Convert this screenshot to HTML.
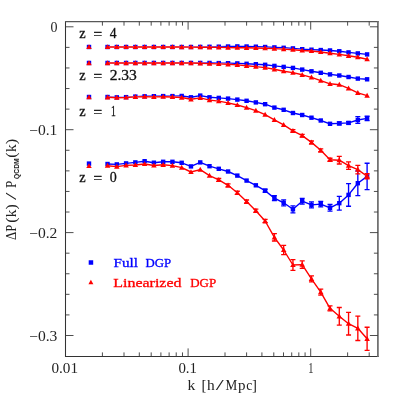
<!DOCTYPE html>
<html><head><meta charset="utf-8"><title>DGP power spectrum</title>
<style>
html,body{margin:0;padding:0;background:#fff;}
svg{display:block;}
text{font-family:"Liberation Serif",serif;}
</style></head>
<body>
<svg width="399" height="399" viewBox="0 0 399 399">
<defs><filter id="idf" x="0" y="0" width="399" height="399" filterUnits="userSpaceOnUse" color-interpolation-filters="sRGB"><feOffset dx="0" dy="0"/></filter></defs>
<rect width="399" height="399" fill="#fff"/>
<path d="M65.5 21.049999999999997V356.9" stroke="#333" stroke-width="1.05" fill="none"/>
<path d="M65.0 356.4H378.59999999999997" stroke="#333" stroke-width="1.05" fill="none"/>
<path d="M65.0 21.65H378.59999999999997" stroke="#585858" stroke-width="1.35" fill="none"/>
<path d="M377.9 21.049999999999997V356.9" stroke="#6a6a6a" stroke-width="1.7" fill="none"/>
<path d="M102.41 356.4v-4M102.41 21.65v4M124.00 356.4v-4M124.00 21.65v4M139.31 356.4v-4M139.31 21.65v4M151.19 356.4v-4M151.19 21.65v4M160.90 356.4v-4M160.90 21.65v4M169.11 356.4v-4M169.11 21.65v4M176.22 356.4v-4M176.22 21.65v4M182.49 356.4v-4M182.49 21.65v4M188.10 356.4v-8M188.10 21.65v8M225.01 356.4v-4M225.01 21.65v4M246.60 356.4v-4M246.60 21.65v4M261.91 356.4v-4M261.91 21.65v4M273.79 356.4v-4M273.79 21.65v4M283.50 356.4v-4M283.50 21.65v4M291.71 356.4v-4M291.71 21.65v4M298.82 356.4v-4M298.82 21.65v4M305.09 356.4v-4M305.09 21.65v4M310.70 356.4v-8M310.70 21.65v8M347.61 356.4v-4M347.61 21.65v4M369.20 356.4v-4M369.20 21.65v4M65.5 26.80h8M377.9 26.80h-8M65.5 47.38h4M377.9 47.38h-4M65.5 67.96h4M377.9 67.96h-4M65.5 88.54h4M377.9 88.54h-4M65.5 109.12h4M377.9 109.12h-4M65.5 129.70h8M377.9 129.70h-8M65.5 150.28h4M377.9 150.28h-4M65.5 170.86h4M377.9 170.86h-4M65.5 191.44h4M377.9 191.44h-4M65.5 212.02h4M377.9 212.02h-4M65.5 232.60h8M377.9 232.60h-8M65.5 253.18h4M377.9 253.18h-4M65.5 273.76h4M377.9 273.76h-4M65.5 294.34h4M377.9 294.34h-4M65.5 314.92h4M377.9 314.92h-4M65.5 335.50h8M377.9 335.50h-8" stroke="#3a3a3a" stroke-width="0.9" fill="none"/>
<polyline points="107.54,47.00 116.81,47.00 126.08,47.00 135.35,47.00 144.62,47.00 153.89,47.00 163.16,47.00 172.43,47.00 181.70,47.00 190.97,47.00 200.24,46.90 209.51,46.80 218.78,46.70 228.05,46.50 237.32,46.40 246.59,46.50 255.86,46.70 265.13,47.00 274.40,47.40 283.67,47.80 292.94,48.40 302.21,49.20 311.48,49.70 320.75,50.05 330.02,50.45 339.29,51.25 348.56,52.40 357.83,53.40 367.10,54.40" fill="none" stroke="#fff" stroke-width="1.4" stroke-linejoin="round"/>
<polyline points="107.54,47.00 116.81,47.00 126.08,47.00 135.35,47.00 144.62,47.00 153.89,47.00 163.16,47.00 172.43,47.00 181.70,47.00 190.97,47.00 200.24,46.90 209.51,46.80 218.78,46.70 228.05,46.50 237.32,46.40 246.59,46.50 255.86,46.70 265.13,47.00 274.40,47.40 283.67,47.80 292.94,48.40 302.21,49.20 311.48,49.70 320.75,50.05 330.02,50.45 339.29,51.25 348.56,52.40 357.83,53.40 367.10,54.40" fill="none" stroke="#0000ff" stroke-width="1.4" stroke-linejoin="round"/>
<rect x="86.80" y="44.80" width="4.4" height="4.4" fill="#0000ff"/>
<rect x="105.34" y="44.80" width="4.4" height="4.4" fill="#0000ff"/>
<rect x="114.61" y="44.80" width="4.4" height="4.4" fill="#0000ff"/>
<rect x="123.88" y="44.80" width="4.4" height="4.4" fill="#0000ff"/>
<rect x="133.15" y="44.80" width="4.4" height="4.4" fill="#0000ff"/>
<rect x="142.42" y="44.80" width="4.4" height="4.4" fill="#0000ff"/>
<rect x="151.69" y="44.80" width="4.4" height="4.4" fill="#0000ff"/>
<rect x="160.96" y="44.80" width="4.4" height="4.4" fill="#0000ff"/>
<rect x="170.23" y="44.80" width="4.4" height="4.4" fill="#0000ff"/>
<rect x="179.50" y="44.80" width="4.4" height="4.4" fill="#0000ff"/>
<rect x="188.77" y="44.80" width="4.4" height="4.4" fill="#0000ff"/>
<rect x="198.04" y="44.70" width="4.4" height="4.4" fill="#0000ff"/>
<rect x="207.31" y="44.60" width="4.4" height="4.4" fill="#0000ff"/>
<rect x="216.58" y="44.50" width="4.4" height="4.4" fill="#0000ff"/>
<rect x="225.85" y="44.30" width="4.4" height="4.4" fill="#0000ff"/>
<rect x="235.12" y="44.20" width="4.4" height="4.4" fill="#0000ff"/>
<rect x="244.39" y="44.30" width="4.4" height="4.4" fill="#0000ff"/>
<rect x="253.66" y="44.50" width="4.4" height="4.4" fill="#0000ff"/>
<rect x="262.93" y="44.80" width="4.4" height="4.4" fill="#0000ff"/>
<rect x="272.20" y="45.20" width="4.4" height="4.4" fill="#0000ff"/>
<rect x="281.47" y="45.60" width="4.4" height="4.4" fill="#0000ff"/>
<rect x="290.74" y="46.20" width="4.4" height="4.4" fill="#0000ff"/>
<rect x="300.01" y="47.00" width="4.4" height="4.4" fill="#0000ff"/>
<rect x="309.28" y="47.50" width="4.4" height="4.4" fill="#0000ff"/>
<rect x="318.55" y="47.85" width="4.4" height="4.4" fill="#0000ff"/>
<rect x="327.82" y="48.25" width="4.4" height="4.4" fill="#0000ff"/>
<rect x="337.09" y="49.05" width="4.4" height="4.4" fill="#0000ff"/>
<rect x="346.36" y="50.20" width="4.4" height="4.4" fill="#0000ff"/>
<rect x="355.63" y="51.20" width="4.4" height="4.4" fill="#0000ff"/>
<rect x="364.90" y="52.20" width="4.4" height="4.4" fill="#0000ff"/>
<polyline points="107.54,62.95 116.81,62.95 126.08,62.95 135.35,62.95 144.62,62.95 153.89,62.95 163.16,62.95 172.43,62.95 181.70,62.95 190.97,62.95 200.24,62.95 209.51,62.95 218.78,63.10 228.05,63.20 237.32,63.40 246.59,63.80 255.86,64.20 265.13,64.80 274.40,65.90 283.67,66.90 292.94,67.90 302.21,69.60 311.48,71.30 320.75,72.80 330.02,74.40 339.29,75.50 348.56,77.00 357.83,78.60 367.10,79.30" fill="none" stroke="#fff" stroke-width="1.4" stroke-linejoin="round"/>
<polyline points="107.54,62.95 116.81,62.95 126.08,62.95 135.35,62.95 144.62,62.95 153.89,62.95 163.16,62.95 172.43,62.95 181.70,62.95 190.97,62.95 200.24,62.95 209.51,62.95 218.78,63.10 228.05,63.20 237.32,63.40 246.59,63.80 255.86,64.20 265.13,64.80 274.40,65.90 283.67,66.90 292.94,67.90 302.21,69.60 311.48,71.30 320.75,72.80 330.02,74.40 339.29,75.50 348.56,77.00 357.83,78.60 367.10,79.30" fill="none" stroke="#0000ff" stroke-width="1.4" stroke-linejoin="round"/>
<rect x="86.80" y="60.75" width="4.4" height="4.4" fill="#0000ff"/>
<rect x="105.34" y="60.75" width="4.4" height="4.4" fill="#0000ff"/>
<rect x="114.61" y="60.75" width="4.4" height="4.4" fill="#0000ff"/>
<rect x="123.88" y="60.75" width="4.4" height="4.4" fill="#0000ff"/>
<rect x="133.15" y="60.75" width="4.4" height="4.4" fill="#0000ff"/>
<rect x="142.42" y="60.75" width="4.4" height="4.4" fill="#0000ff"/>
<rect x="151.69" y="60.75" width="4.4" height="4.4" fill="#0000ff"/>
<rect x="160.96" y="60.75" width="4.4" height="4.4" fill="#0000ff"/>
<rect x="170.23" y="60.75" width="4.4" height="4.4" fill="#0000ff"/>
<rect x="179.50" y="60.75" width="4.4" height="4.4" fill="#0000ff"/>
<rect x="188.77" y="60.75" width="4.4" height="4.4" fill="#0000ff"/>
<rect x="198.04" y="60.75" width="4.4" height="4.4" fill="#0000ff"/>
<rect x="207.31" y="60.75" width="4.4" height="4.4" fill="#0000ff"/>
<rect x="216.58" y="60.90" width="4.4" height="4.4" fill="#0000ff"/>
<rect x="225.85" y="61.00" width="4.4" height="4.4" fill="#0000ff"/>
<rect x="235.12" y="61.20" width="4.4" height="4.4" fill="#0000ff"/>
<rect x="244.39" y="61.60" width="4.4" height="4.4" fill="#0000ff"/>
<rect x="253.66" y="62.00" width="4.4" height="4.4" fill="#0000ff"/>
<rect x="262.93" y="62.60" width="4.4" height="4.4" fill="#0000ff"/>
<rect x="272.20" y="63.70" width="4.4" height="4.4" fill="#0000ff"/>
<rect x="281.47" y="64.70" width="4.4" height="4.4" fill="#0000ff"/>
<rect x="290.74" y="65.70" width="4.4" height="4.4" fill="#0000ff"/>
<rect x="300.01" y="67.40" width="4.4" height="4.4" fill="#0000ff"/>
<rect x="309.28" y="69.10" width="4.4" height="4.4" fill="#0000ff"/>
<rect x="318.55" y="70.60" width="4.4" height="4.4" fill="#0000ff"/>
<rect x="327.82" y="72.20" width="4.4" height="4.4" fill="#0000ff"/>
<rect x="337.09" y="73.30" width="4.4" height="4.4" fill="#0000ff"/>
<rect x="346.36" y="74.80" width="4.4" height="4.4" fill="#0000ff"/>
<rect x="355.63" y="76.40" width="4.4" height="4.4" fill="#0000ff"/>
<rect x="364.90" y="77.10" width="4.4" height="4.4" fill="#0000ff"/>
<polyline points="107.54,97.00 116.81,97.35 126.08,97.15 135.35,96.60 144.62,96.30 153.89,96.20 163.16,96.10 172.43,96.10 181.70,95.95 190.97,97.30 200.24,95.60 209.51,97.30 218.78,97.90 228.05,98.60 237.32,99.60 246.59,100.80 255.86,102.40 265.13,104.20 274.40,107.60 283.67,109.80 292.94,113.00 302.21,115.00 311.48,117.70 320.75,120.50 330.02,123.80 339.29,123.40 348.56,122.90 357.83,120.00 367.10,118.40" fill="none" stroke="#fff" stroke-width="1.4" stroke-linejoin="round"/>
<polyline points="107.54,97.00 116.81,97.35 126.08,97.15 135.35,96.60 144.62,96.30 153.89,96.20 163.16,96.10 172.43,96.10 181.70,95.95 190.97,97.30 200.24,95.60 209.51,97.30 218.78,97.90 228.05,98.60 237.32,99.60 246.59,100.80 255.86,102.40 265.13,104.20 274.40,107.60 283.67,109.80 292.94,113.00 302.21,115.00 311.48,117.70 320.75,120.50 330.02,123.80 339.29,123.40 348.56,122.90 357.83,120.00 367.10,118.40" fill="none" stroke="#0000ff" stroke-width="1.4" stroke-linejoin="round"/>
<path d="M339.29 121.90V124.90M336.79 121.90h5M336.79 124.90h5" stroke="#0000ff" stroke-width="1.35" fill="none"/>
<path d="M348.56 121.70V124.10M346.06 121.70h5M346.06 124.10h5" stroke="#0000ff" stroke-width="1.35" fill="none"/>
<path d="M357.83 116.60V123.40M355.33 116.60h5M355.33 123.40h5" stroke="#0000ff" stroke-width="1.35" fill="none"/>
<path d="M367.10 116.20V120.60M364.60 116.20h5M364.60 120.60h5" stroke="#0000ff" stroke-width="1.35" fill="none"/>
<rect x="86.80" y="94.80" width="4.4" height="4.4" fill="#0000ff"/>
<rect x="105.34" y="94.80" width="4.4" height="4.4" fill="#0000ff"/>
<rect x="114.61" y="95.15" width="4.4" height="4.4" fill="#0000ff"/>
<rect x="123.88" y="94.95" width="4.4" height="4.4" fill="#0000ff"/>
<rect x="133.15" y="94.40" width="4.4" height="4.4" fill="#0000ff"/>
<rect x="142.42" y="94.10" width="4.4" height="4.4" fill="#0000ff"/>
<rect x="151.69" y="94.00" width="4.4" height="4.4" fill="#0000ff"/>
<rect x="160.96" y="93.90" width="4.4" height="4.4" fill="#0000ff"/>
<rect x="170.23" y="93.90" width="4.4" height="4.4" fill="#0000ff"/>
<rect x="179.50" y="93.75" width="4.4" height="4.4" fill="#0000ff"/>
<rect x="188.77" y="95.10" width="4.4" height="4.4" fill="#0000ff"/>
<rect x="198.04" y="93.40" width="4.4" height="4.4" fill="#0000ff"/>
<rect x="207.31" y="95.10" width="4.4" height="4.4" fill="#0000ff"/>
<rect x="216.58" y="95.70" width="4.4" height="4.4" fill="#0000ff"/>
<rect x="225.85" y="96.40" width="4.4" height="4.4" fill="#0000ff"/>
<rect x="235.12" y="97.40" width="4.4" height="4.4" fill="#0000ff"/>
<rect x="244.39" y="98.60" width="4.4" height="4.4" fill="#0000ff"/>
<rect x="253.66" y="100.20" width="4.4" height="4.4" fill="#0000ff"/>
<rect x="262.93" y="102.00" width="4.4" height="4.4" fill="#0000ff"/>
<rect x="272.20" y="105.40" width="4.4" height="4.4" fill="#0000ff"/>
<rect x="281.47" y="107.60" width="4.4" height="4.4" fill="#0000ff"/>
<rect x="290.74" y="110.80" width="4.4" height="4.4" fill="#0000ff"/>
<rect x="300.01" y="112.80" width="4.4" height="4.4" fill="#0000ff"/>
<rect x="309.28" y="115.50" width="4.4" height="4.4" fill="#0000ff"/>
<rect x="318.55" y="118.30" width="4.4" height="4.4" fill="#0000ff"/>
<rect x="327.82" y="121.60" width="4.4" height="4.4" fill="#0000ff"/>
<rect x="337.09" y="121.20" width="4.4" height="4.4" fill="#0000ff"/>
<rect x="346.36" y="120.70" width="4.4" height="4.4" fill="#0000ff"/>
<rect x="355.63" y="117.80" width="4.4" height="4.4" fill="#0000ff"/>
<rect x="364.90" y="116.20" width="4.4" height="4.4" fill="#0000ff"/>
<polyline points="107.54,164.00 116.81,164.40 126.08,163.40 135.35,162.40 144.62,161.20 153.89,162.70 163.16,161.80 172.43,161.80 181.70,162.80 190.97,166.40 200.24,162.40 209.51,166.20 218.78,168.80 228.05,171.50 237.32,175.60 246.59,180.60 255.86,185.30 265.13,190.70 274.40,198.10 283.67,202.80 292.94,209.30 302.21,201.20 311.48,204.90 320.75,204.10 330.02,207.80 339.29,203.20 348.56,194.90 357.83,183.20 367.10,176.40" fill="none" stroke="#fff" stroke-width="1.4" stroke-linejoin="round"/>
<polyline points="107.54,164.00 116.81,164.40 126.08,163.40 135.35,162.40 144.62,161.20 153.89,162.70 163.16,161.80 172.43,161.80 181.70,162.80 190.97,166.40 200.24,162.40 209.51,166.20 218.78,168.80 228.05,171.50 237.32,175.60 246.59,180.60 255.86,185.30 265.13,190.70 274.40,198.10 283.67,202.80 292.94,209.30 302.21,201.20 311.48,204.90 320.75,204.10 330.02,207.80 339.29,203.20 348.56,194.90 357.83,183.20 367.10,176.40" fill="none" stroke="#0000ff" stroke-width="1.4" stroke-linejoin="round"/>
<path d="M265.13 189.20V192.20M262.63 189.20h5M262.63 192.20h5" stroke="#0000ff" stroke-width="1.35" fill="none"/>
<path d="M274.40 195.60V200.60M271.90 195.60h5M271.90 200.60h5" stroke="#0000ff" stroke-width="1.35" fill="none"/>
<path d="M283.67 199.80V205.80M281.17 199.80h5M281.17 205.80h5" stroke="#0000ff" stroke-width="1.35" fill="none"/>
<path d="M292.94 205.80V212.80M290.44 205.80h5M290.44 212.80h5" stroke="#0000ff" stroke-width="1.35" fill="none"/>
<path d="M302.21 198.30V204.10M299.71 198.30h5M299.71 204.10h5" stroke="#0000ff" stroke-width="1.35" fill="none"/>
<path d="M311.48 201.90V207.90M308.98 201.90h5M308.98 207.90h5" stroke="#0000ff" stroke-width="1.35" fill="none"/>
<path d="M320.75 201.30V206.90M318.25 201.30h5M318.25 206.90h5" stroke="#0000ff" stroke-width="1.35" fill="none"/>
<path d="M330.02 204.50V211.10M327.52 204.50h5M327.52 211.10h5" stroke="#0000ff" stroke-width="1.35" fill="none"/>
<path d="M339.29 196.30V210.10M336.79 196.30h5M336.79 210.10h5" stroke="#0000ff" stroke-width="1.35" fill="none"/>
<path d="M348.56 183.60V206.20M346.06 183.60h5M346.06 206.20h5" stroke="#0000ff" stroke-width="1.35" fill="none"/>
<path d="M357.83 170.80V195.60M355.33 170.80h5M355.33 195.60h5" stroke="#0000ff" stroke-width="1.35" fill="none"/>
<path d="M367.10 163.20V189.60M364.60 163.20h5M364.60 189.60h5" stroke="#0000ff" stroke-width="1.35" fill="none"/>
<rect x="86.80" y="161.40" width="4.4" height="4.4" fill="#0000ff"/>
<rect x="105.34" y="161.80" width="4.4" height="4.4" fill="#0000ff"/>
<rect x="114.61" y="162.20" width="4.4" height="4.4" fill="#0000ff"/>
<rect x="123.88" y="161.20" width="4.4" height="4.4" fill="#0000ff"/>
<rect x="133.15" y="160.20" width="4.4" height="4.4" fill="#0000ff"/>
<rect x="142.42" y="159.00" width="4.4" height="4.4" fill="#0000ff"/>
<rect x="151.69" y="160.50" width="4.4" height="4.4" fill="#0000ff"/>
<rect x="160.96" y="159.60" width="4.4" height="4.4" fill="#0000ff"/>
<rect x="170.23" y="159.60" width="4.4" height="4.4" fill="#0000ff"/>
<rect x="179.50" y="160.60" width="4.4" height="4.4" fill="#0000ff"/>
<rect x="188.77" y="164.20" width="4.4" height="4.4" fill="#0000ff"/>
<rect x="198.04" y="160.20" width="4.4" height="4.4" fill="#0000ff"/>
<rect x="207.31" y="164.00" width="4.4" height="4.4" fill="#0000ff"/>
<rect x="216.58" y="166.60" width="4.4" height="4.4" fill="#0000ff"/>
<rect x="225.85" y="169.30" width="4.4" height="4.4" fill="#0000ff"/>
<rect x="235.12" y="173.40" width="4.4" height="4.4" fill="#0000ff"/>
<rect x="244.39" y="178.40" width="4.4" height="4.4" fill="#0000ff"/>
<rect x="253.66" y="183.10" width="4.4" height="4.4" fill="#0000ff"/>
<rect x="262.93" y="188.50" width="4.4" height="4.4" fill="#0000ff"/>
<rect x="272.20" y="195.90" width="4.4" height="4.4" fill="#0000ff"/>
<rect x="281.47" y="200.60" width="4.4" height="4.4" fill="#0000ff"/>
<rect x="290.74" y="207.10" width="4.4" height="4.4" fill="#0000ff"/>
<rect x="300.01" y="199.00" width="4.4" height="4.4" fill="#0000ff"/>
<rect x="309.28" y="202.70" width="4.4" height="4.4" fill="#0000ff"/>
<rect x="318.55" y="201.90" width="4.4" height="4.4" fill="#0000ff"/>
<rect x="327.82" y="205.60" width="4.4" height="4.4" fill="#0000ff"/>
<rect x="337.09" y="201.00" width="4.4" height="4.4" fill="#0000ff"/>
<rect x="346.36" y="192.70" width="4.4" height="4.4" fill="#0000ff"/>
<rect x="355.63" y="181.00" width="4.4" height="4.4" fill="#0000ff"/>
<rect x="364.90" y="174.20" width="4.4" height="4.4" fill="#0000ff"/>
<polyline points="107.54,47.00 116.81,47.00 126.08,47.00 135.35,47.00 144.62,47.00 153.89,47.00 163.16,47.00 172.43,47.00 181.70,47.05 190.97,47.10 200.24,47.20 209.51,47.30 218.78,47.40 228.05,47.60 237.32,47.70 246.59,47.80 255.86,48.00 265.13,48.20 274.40,48.60 283.67,49.10 292.94,49.70 302.21,50.50 311.48,51.00 320.75,52.00 330.02,53.20 339.29,54.40 348.56,55.80 357.83,57.20 367.10,59.20" fill="none" stroke="#fff" stroke-width="1.4" stroke-linejoin="round"/>
<polyline points="107.54,47.00 116.81,47.00 126.08,47.00 135.35,47.00 144.62,47.00 153.89,47.00 163.16,47.00 172.43,47.00 181.70,47.05 190.97,47.10 200.24,47.20 209.51,47.30 218.78,47.40 228.05,47.60 237.32,47.70 246.59,47.80 255.86,48.00 265.13,48.20 274.40,48.60 283.67,49.10 292.94,49.70 302.21,50.50 311.48,51.00 320.75,52.00 330.02,53.20 339.29,54.40 348.56,55.80 357.83,57.20 367.10,59.20" fill="none" stroke="#ff0000" stroke-width="1.4" stroke-linejoin="round"/>
<path d="M86.25 49.09L91.75 49.09L89.00 44.14Z" fill="#ff0000"/>
<path d="M104.79 49.09L110.29 49.09L107.54 44.14Z" fill="#ff0000"/>
<path d="M114.06 49.09L119.56 49.09L116.81 44.14Z" fill="#ff0000"/>
<path d="M123.33 49.09L128.83 49.09L126.08 44.14Z" fill="#ff0000"/>
<path d="M132.60 49.09L138.10 49.09L135.35 44.14Z" fill="#ff0000"/>
<path d="M141.87 49.09L147.37 49.09L144.62 44.14Z" fill="#ff0000"/>
<path d="M151.14 49.09L156.64 49.09L153.89 44.14Z" fill="#ff0000"/>
<path d="M160.41 49.09L165.91 49.09L163.16 44.14Z" fill="#ff0000"/>
<path d="M169.68 49.09L175.18 49.09L172.43 44.14Z" fill="#ff0000"/>
<path d="M178.95 49.14L184.45 49.14L181.70 44.19Z" fill="#ff0000"/>
<path d="M188.22 49.19L193.72 49.19L190.97 44.24Z" fill="#ff0000"/>
<path d="M197.49 49.29L202.99 49.29L200.24 44.34Z" fill="#ff0000"/>
<path d="M206.76 49.39L212.26 49.39L209.51 44.44Z" fill="#ff0000"/>
<path d="M216.03 49.49L221.53 49.49L218.78 44.54Z" fill="#ff0000"/>
<path d="M225.30 49.69L230.80 49.69L228.05 44.74Z" fill="#ff0000"/>
<path d="M234.57 49.79L240.07 49.79L237.32 44.84Z" fill="#ff0000"/>
<path d="M243.84 49.89L249.34 49.89L246.59 44.94Z" fill="#ff0000"/>
<path d="M253.11 50.09L258.61 50.09L255.86 45.14Z" fill="#ff0000"/>
<path d="M262.38 50.29L267.88 50.29L265.13 45.34Z" fill="#ff0000"/>
<path d="M271.65 50.69L277.15 50.69L274.40 45.74Z" fill="#ff0000"/>
<path d="M280.92 51.19L286.42 51.19L283.67 46.24Z" fill="#ff0000"/>
<path d="M290.19 51.79L295.69 51.79L292.94 46.84Z" fill="#ff0000"/>
<path d="M299.46 52.59L304.96 52.59L302.21 47.64Z" fill="#ff0000"/>
<path d="M308.73 53.09L314.23 53.09L311.48 48.14Z" fill="#ff0000"/>
<path d="M318.00 54.09L323.50 54.09L320.75 49.14Z" fill="#ff0000"/>
<path d="M327.27 55.29L332.77 55.29L330.02 50.34Z" fill="#ff0000"/>
<path d="M336.54 56.49L342.04 56.49L339.29 51.54Z" fill="#ff0000"/>
<path d="M345.81 57.89L351.31 57.89L348.56 52.94Z" fill="#ff0000"/>
<path d="M355.08 59.29L360.58 59.29L357.83 54.34Z" fill="#ff0000"/>
<path d="M364.35 61.29L369.85 61.29L367.10 56.34Z" fill="#ff0000"/>
<polyline points="107.54,63.05 116.81,63.05 126.08,63.05 135.35,63.05 144.62,63.05 153.89,63.05 163.16,63.05 172.43,63.05 181.70,63.05 190.97,63.05 200.24,63.30 209.51,63.60 218.78,63.90 228.05,64.30 237.32,64.90 246.59,65.80 255.86,66.60 265.13,67.60 274.40,69.30 283.67,71.20 292.94,72.60 302.21,74.80 311.48,77.40 320.75,80.60 330.02,83.80 339.29,84.70 348.56,88.40 357.83,92.90 367.10,95.60" fill="none" stroke="#fff" stroke-width="1.4" stroke-linejoin="round"/>
<polyline points="107.54,63.05 116.81,63.05 126.08,63.05 135.35,63.05 144.62,63.05 153.89,63.05 163.16,63.05 172.43,63.05 181.70,63.05 190.97,63.05 200.24,63.30 209.51,63.60 218.78,63.90 228.05,64.30 237.32,64.90 246.59,65.80 255.86,66.60 265.13,67.60 274.40,69.30 283.67,71.20 292.94,72.60 302.21,74.80 311.48,77.40 320.75,80.60 330.02,83.80 339.29,84.70 348.56,88.40 357.83,92.90 367.10,95.60" fill="none" stroke="#ff0000" stroke-width="1.4" stroke-linejoin="round"/>
<path d="M86.25 65.14L91.75 65.14L89.00 60.19Z" fill="#ff0000"/>
<path d="M104.79 65.14L110.29 65.14L107.54 60.19Z" fill="#ff0000"/>
<path d="M114.06 65.14L119.56 65.14L116.81 60.19Z" fill="#ff0000"/>
<path d="M123.33 65.14L128.83 65.14L126.08 60.19Z" fill="#ff0000"/>
<path d="M132.60 65.14L138.10 65.14L135.35 60.19Z" fill="#ff0000"/>
<path d="M141.87 65.14L147.37 65.14L144.62 60.19Z" fill="#ff0000"/>
<path d="M151.14 65.14L156.64 65.14L153.89 60.19Z" fill="#ff0000"/>
<path d="M160.41 65.14L165.91 65.14L163.16 60.19Z" fill="#ff0000"/>
<path d="M169.68 65.14L175.18 65.14L172.43 60.19Z" fill="#ff0000"/>
<path d="M178.95 65.14L184.45 65.14L181.70 60.19Z" fill="#ff0000"/>
<path d="M188.22 65.14L193.72 65.14L190.97 60.19Z" fill="#ff0000"/>
<path d="M197.49 65.39L202.99 65.39L200.24 60.44Z" fill="#ff0000"/>
<path d="M206.76 65.69L212.26 65.69L209.51 60.74Z" fill="#ff0000"/>
<path d="M216.03 65.99L221.53 65.99L218.78 61.04Z" fill="#ff0000"/>
<path d="M225.30 66.39L230.80 66.39L228.05 61.44Z" fill="#ff0000"/>
<path d="M234.57 66.99L240.07 66.99L237.32 62.04Z" fill="#ff0000"/>
<path d="M243.84 67.89L249.34 67.89L246.59 62.94Z" fill="#ff0000"/>
<path d="M253.11 68.69L258.61 68.69L255.86 63.74Z" fill="#ff0000"/>
<path d="M262.38 69.69L267.88 69.69L265.13 64.74Z" fill="#ff0000"/>
<path d="M271.65 71.39L277.15 71.39L274.40 66.44Z" fill="#ff0000"/>
<path d="M280.92 73.29L286.42 73.29L283.67 68.34Z" fill="#ff0000"/>
<path d="M290.19 74.69L295.69 74.69L292.94 69.74Z" fill="#ff0000"/>
<path d="M299.46 76.89L304.96 76.89L302.21 71.94Z" fill="#ff0000"/>
<path d="M308.73 79.49L314.23 79.49L311.48 74.54Z" fill="#ff0000"/>
<path d="M318.00 82.69L323.50 82.69L320.75 77.74Z" fill="#ff0000"/>
<path d="M327.27 85.89L332.77 85.89L330.02 80.94Z" fill="#ff0000"/>
<path d="M336.54 86.79L342.04 86.79L339.29 81.84Z" fill="#ff0000"/>
<path d="M345.81 90.49L351.31 90.49L348.56 85.54Z" fill="#ff0000"/>
<path d="M355.08 94.99L360.58 94.99L357.83 90.04Z" fill="#ff0000"/>
<path d="M364.35 97.69L369.85 97.69L367.10 92.74Z" fill="#ff0000"/>
<polyline points="107.54,97.30 116.81,97.70 126.08,97.50 135.35,96.85 144.62,96.70 153.89,96.85 163.16,96.75 172.43,96.95 181.70,97.55 190.97,99.30 200.24,97.90 209.51,100.10 218.78,101.10 228.05,102.90 237.32,105.00 246.59,107.60 255.86,110.60 265.13,114.70 274.40,119.80 283.67,124.80 292.94,130.80 302.21,135.60 311.48,142.40 320.75,150.30 330.02,159.70 339.29,160.20 348.56,165.60 357.83,169.60 367.10,176.20" fill="none" stroke="#fff" stroke-width="1.4" stroke-linejoin="round"/>
<polyline points="107.54,97.30 116.81,97.70 126.08,97.50 135.35,96.85 144.62,96.70 153.89,96.85 163.16,96.75 172.43,96.95 181.70,97.55 190.97,99.30 200.24,97.90 209.51,100.10 218.78,101.10 228.05,102.90 237.32,105.00 246.59,107.60 255.86,110.60 265.13,114.70 274.40,119.80 283.67,124.80 292.94,130.80 302.21,135.60 311.48,142.40 320.75,150.30 330.02,159.70 339.29,160.20 348.56,165.60 357.83,169.60 367.10,176.20" fill="none" stroke="#ff0000" stroke-width="1.4" stroke-linejoin="round"/>
<path d="M292.94 129.60V132.00M290.44 129.60h5M290.44 132.00h5" stroke="#ff0000" stroke-width="1.35" fill="none"/>
<path d="M302.21 134.30V136.90M299.71 134.30h5M299.71 136.90h5" stroke="#ff0000" stroke-width="1.35" fill="none"/>
<path d="M311.48 141.00V143.80M308.98 141.00h5M308.98 143.80h5" stroke="#ff0000" stroke-width="1.35" fill="none"/>
<path d="M320.75 148.90V151.70M318.25 148.90h5M318.25 151.70h5" stroke="#ff0000" stroke-width="1.35" fill="none"/>
<path d="M330.02 158.20V161.20M327.52 158.20h5M327.52 161.20h5" stroke="#ff0000" stroke-width="1.35" fill="none"/>
<path d="M339.29 156.40V164.00M336.79 156.40h5M336.79 164.00h5" stroke="#ff0000" stroke-width="1.35" fill="none"/>
<path d="M348.56 161.90V169.30M346.06 161.90h5M346.06 169.30h5" stroke="#ff0000" stroke-width="1.35" fill="none"/>
<path d="M357.83 165.30V173.90M355.33 165.30h5M355.33 173.90h5" stroke="#ff0000" stroke-width="1.35" fill="none"/>
<path d="M367.10 173.70V178.70M364.60 173.70h5M364.60 178.70h5" stroke="#ff0000" stroke-width="1.35" fill="none"/>
<path d="M86.25 99.34L91.75 99.34L89.00 94.39Z" fill="#ff0000"/>
<path d="M104.79 99.39L110.29 99.39L107.54 94.44Z" fill="#ff0000"/>
<path d="M114.06 99.79L119.56 99.79L116.81 94.84Z" fill="#ff0000"/>
<path d="M123.33 99.59L128.83 99.59L126.08 94.64Z" fill="#ff0000"/>
<path d="M132.60 98.94L138.10 98.94L135.35 93.99Z" fill="#ff0000"/>
<path d="M141.87 98.79L147.37 98.79L144.62 93.84Z" fill="#ff0000"/>
<path d="M151.14 98.94L156.64 98.94L153.89 93.99Z" fill="#ff0000"/>
<path d="M160.41 98.84L165.91 98.84L163.16 93.89Z" fill="#ff0000"/>
<path d="M169.68 99.04L175.18 99.04L172.43 94.09Z" fill="#ff0000"/>
<path d="M178.95 99.64L184.45 99.64L181.70 94.69Z" fill="#ff0000"/>
<path d="M188.22 101.39L193.72 101.39L190.97 96.44Z" fill="#ff0000"/>
<path d="M197.49 99.99L202.99 99.99L200.24 95.04Z" fill="#ff0000"/>
<path d="M206.76 102.19L212.26 102.19L209.51 97.24Z" fill="#ff0000"/>
<path d="M216.03 103.19L221.53 103.19L218.78 98.24Z" fill="#ff0000"/>
<path d="M225.30 104.99L230.80 104.99L228.05 100.04Z" fill="#ff0000"/>
<path d="M234.57 107.09L240.07 107.09L237.32 102.14Z" fill="#ff0000"/>
<path d="M243.84 109.69L249.34 109.69L246.59 104.74Z" fill="#ff0000"/>
<path d="M253.11 112.69L258.61 112.69L255.86 107.74Z" fill="#ff0000"/>
<path d="M262.38 116.79L267.88 116.79L265.13 111.84Z" fill="#ff0000"/>
<path d="M271.65 121.89L277.15 121.89L274.40 116.94Z" fill="#ff0000"/>
<path d="M280.92 126.89L286.42 126.89L283.67 121.94Z" fill="#ff0000"/>
<path d="M290.19 132.89L295.69 132.89L292.94 127.94Z" fill="#ff0000"/>
<path d="M299.46 137.69L304.96 137.69L302.21 132.74Z" fill="#ff0000"/>
<path d="M308.73 144.49L314.23 144.49L311.48 139.54Z" fill="#ff0000"/>
<path d="M318.00 152.39L323.50 152.39L320.75 147.44Z" fill="#ff0000"/>
<path d="M327.27 161.79L332.77 161.79L330.02 156.84Z" fill="#ff0000"/>
<path d="M336.54 162.29L342.04 162.29L339.29 157.34Z" fill="#ff0000"/>
<path d="M345.81 167.69L351.31 167.69L348.56 162.74Z" fill="#ff0000"/>
<path d="M355.08 171.69L360.58 171.69L357.83 166.74Z" fill="#ff0000"/>
<path d="M364.35 178.29L369.85 178.29L367.10 173.34Z" fill="#ff0000"/>
<polyline points="107.54,165.70 116.81,166.60 126.08,165.40 135.35,165.00 144.62,164.00 153.89,165.50 163.16,164.80 172.43,165.60 181.70,167.60 190.97,172.00 200.24,169.60 209.51,175.60 218.78,179.90 228.05,185.30 237.32,192.80 246.59,201.60 255.86,210.70 265.13,221.00 274.40,237.30 283.67,250.00 292.94,265.00 302.21,264.60 311.48,278.80 320.75,292.10 330.02,308.30 339.29,316.30 348.56,323.70 357.83,328.30 367.10,338.80" fill="none" stroke="#fff" stroke-width="1.4" stroke-linejoin="round"/>
<polyline points="107.54,165.70 116.81,166.60 126.08,165.40 135.35,165.00 144.62,164.00 153.89,165.50 163.16,164.80 172.43,165.60 181.70,167.60 190.97,172.00 200.24,169.60 209.51,175.60 218.78,179.90 228.05,185.30 237.32,192.80 246.59,201.60 255.86,210.70 265.13,221.00 274.40,237.30 283.67,250.00 292.94,265.00 302.21,264.60 311.48,278.80 320.75,292.10 330.02,308.30 339.29,316.30 348.56,323.70 357.83,328.30 367.10,338.80" fill="none" stroke="#ff0000" stroke-width="1.4" stroke-linejoin="round"/>
<path d="M218.78 178.50V181.30M216.28 178.50h5M216.28 181.30h5" stroke="#ff0000" stroke-width="1.35" fill="none"/>
<path d="M228.05 183.80V186.80M225.55 183.80h5M225.55 186.80h5" stroke="#ff0000" stroke-width="1.35" fill="none"/>
<path d="M237.32 191.20V194.40M234.82 191.20h5M234.82 194.40h5" stroke="#ff0000" stroke-width="1.35" fill="none"/>
<path d="M246.59 200.00V203.20M244.09 200.00h5M244.09 203.20h5" stroke="#ff0000" stroke-width="1.35" fill="none"/>
<path d="M255.86 209.10V212.30M253.36 209.10h5M253.36 212.30h5" stroke="#ff0000" stroke-width="1.35" fill="none"/>
<path d="M265.13 219.30V222.70M262.63 219.30h5M262.63 222.70h5" stroke="#ff0000" stroke-width="1.35" fill="none"/>
<path d="M274.40 233.60V241.00M271.90 233.60h5M271.90 241.00h5" stroke="#ff0000" stroke-width="1.35" fill="none"/>
<path d="M283.67 245.40V254.60M281.17 245.40h5M281.17 254.60h5" stroke="#ff0000" stroke-width="1.35" fill="none"/>
<path d="M292.94 259.60V270.40M290.44 259.60h5M290.44 270.40h5" stroke="#ff0000" stroke-width="1.35" fill="none"/>
<path d="M302.21 260.90V268.30M299.71 260.90h5M299.71 268.30h5" stroke="#ff0000" stroke-width="1.35" fill="none"/>
<path d="M311.48 275.80V281.80M308.98 275.80h5M308.98 281.80h5" stroke="#ff0000" stroke-width="1.35" fill="none"/>
<path d="M320.75 289.10V295.10M318.25 289.10h5M318.25 295.10h5" stroke="#ff0000" stroke-width="1.35" fill="none"/>
<path d="M330.02 305.80V310.80M327.52 305.80h5M327.52 310.80h5" stroke="#ff0000" stroke-width="1.35" fill="none"/>
<path d="M339.29 307.50V325.10M336.79 307.50h5M336.79 325.10h5" stroke="#ff0000" stroke-width="1.35" fill="none"/>
<path d="M348.56 312.40V335.00M346.06 312.40h5M346.06 335.00h5" stroke="#ff0000" stroke-width="1.35" fill="none"/>
<path d="M357.83 316.10V340.50M355.33 316.10h5M355.33 340.50h5" stroke="#ff0000" stroke-width="1.35" fill="none"/>
<path d="M367.10 327.20V350.40M364.60 327.20h5M364.60 350.40h5" stroke="#ff0000" stroke-width="1.35" fill="none"/>
<path d="M86.25 168.09L91.75 168.09L89.00 163.14Z" fill="#ff0000"/>
<path d="M104.79 167.79L110.29 167.79L107.54 162.84Z" fill="#ff0000"/>
<path d="M114.06 168.69L119.56 168.69L116.81 163.74Z" fill="#ff0000"/>
<path d="M123.33 167.49L128.83 167.49L126.08 162.54Z" fill="#ff0000"/>
<path d="M132.60 167.09L138.10 167.09L135.35 162.14Z" fill="#ff0000"/>
<path d="M141.87 166.09L147.37 166.09L144.62 161.14Z" fill="#ff0000"/>
<path d="M151.14 167.59L156.64 167.59L153.89 162.64Z" fill="#ff0000"/>
<path d="M160.41 166.89L165.91 166.89L163.16 161.94Z" fill="#ff0000"/>
<path d="M169.68 167.69L175.18 167.69L172.43 162.74Z" fill="#ff0000"/>
<path d="M178.95 169.69L184.45 169.69L181.70 164.74Z" fill="#ff0000"/>
<path d="M188.22 174.09L193.72 174.09L190.97 169.14Z" fill="#ff0000"/>
<path d="M197.49 171.69L202.99 171.69L200.24 166.74Z" fill="#ff0000"/>
<path d="M206.76 177.69L212.26 177.69L209.51 172.74Z" fill="#ff0000"/>
<path d="M216.03 181.99L221.53 181.99L218.78 177.04Z" fill="#ff0000"/>
<path d="M225.30 187.39L230.80 187.39L228.05 182.44Z" fill="#ff0000"/>
<path d="M234.57 194.89L240.07 194.89L237.32 189.94Z" fill="#ff0000"/>
<path d="M243.84 203.69L249.34 203.69L246.59 198.74Z" fill="#ff0000"/>
<path d="M253.11 212.79L258.61 212.79L255.86 207.84Z" fill="#ff0000"/>
<path d="M262.38 223.09L267.88 223.09L265.13 218.14Z" fill="#ff0000"/>
<path d="M271.65 239.39L277.15 239.39L274.40 234.44Z" fill="#ff0000"/>
<path d="M280.92 252.09L286.42 252.09L283.67 247.14Z" fill="#ff0000"/>
<path d="M290.19 267.09L295.69 267.09L292.94 262.14Z" fill="#ff0000"/>
<path d="M299.46 266.69L304.96 266.69L302.21 261.74Z" fill="#ff0000"/>
<path d="M308.73 280.89L314.23 280.89L311.48 275.94Z" fill="#ff0000"/>
<path d="M318.00 294.19L323.50 294.19L320.75 289.24Z" fill="#ff0000"/>
<path d="M327.27 310.39L332.77 310.39L330.02 305.44Z" fill="#ff0000"/>
<path d="M336.54 318.39L342.04 318.39L339.29 313.44Z" fill="#ff0000"/>
<path d="M345.81 325.79L351.31 325.79L348.56 320.84Z" fill="#ff0000"/>
<path d="M355.08 330.39L360.58 330.39L357.83 325.44Z" fill="#ff0000"/>
<path d="M364.35 340.89L369.85 340.89L367.10 335.94Z" fill="#ff0000"/>
<rect x="88.70" y="260.25" width="4.5" height="4.5" fill="#0000ff"/>
<path d="M88.4 284.3L93.4 284.3L90.9 279.7Z" fill="#ff0000"/>
<g filter="url(#idf)">
<text x="50.4" y="32.1" font-size="14.2" text-anchor="start" fill="#222" textLength="7.0" lengthAdjust="spacingAndGlyphs">0</text>
<text x="29.099999999999998" y="135.2" font-size="14.2" text-anchor="start" fill="#222" textLength="28.3" lengthAdjust="spacingAndGlyphs">−0.1</text>
<text x="29.099999999999998" y="238.0" font-size="14.2" text-anchor="start" fill="#222" textLength="28.3" lengthAdjust="spacingAndGlyphs">−0.2</text>
<text x="29.099999999999998" y="341.09999999999997" font-size="14.2" text-anchor="start" fill="#222" textLength="28.3" lengthAdjust="spacingAndGlyphs">−0.3</text>
<text x="51.4" y="372.7" font-size="14.2" text-anchor="start" fill="#222" textLength="26.6" lengthAdjust="spacingAndGlyphs">0.01</text>
<text x="178.4" y="372.7" font-size="14.2" text-anchor="start" fill="#222" textLength="18.6" lengthAdjust="spacingAndGlyphs">0.1</text>
<text x="308.2" y="372.7" font-size="14.2" text-anchor="start" fill="#222" textLength="5.2" lengthAdjust="spacingAndGlyphs">1</text>
<text x="187.4" y="390.1" font-size="14.8" text-anchor="start" fill="#222" textLength="7.8" lengthAdjust="spacingAndGlyphs">k</text>
<text x="201.4" y="390.1" font-size="14.8" text-anchor="start" fill="#222" textLength="4.96" lengthAdjust="spacingAndGlyphs">[</text>
<text x="206.9" y="390.1" font-size="14.8" text-anchor="start" fill="#222" textLength="7.7" lengthAdjust="spacingAndGlyphs">h</text>
<text x="215.7" y="390.1" font-size="14.8" text-anchor="start" fill="#222" textLength="8.0" lengthAdjust="spacingAndGlyphs">/</text>
<text x="225.5" y="390.1" font-size="14.8" text-anchor="start" fill="#222" textLength="11.74" lengthAdjust="spacingAndGlyphs">M</text>
<text x="238.0" y="390.1" font-size="14.8" text-anchor="start" fill="#222" textLength="7.49" lengthAdjust="spacingAndGlyphs">p</text>
<text x="246.3" y="390.1" font-size="14.8" text-anchor="start" fill="#222" textLength="6.05" lengthAdjust="spacingAndGlyphs">c</text>
<text x="252.1" y="390.1" font-size="14.8" text-anchor="start" fill="#222" textLength="4.96" lengthAdjust="spacingAndGlyphs">]</text>
<text x="79.2" y="38.0" font-size="13.6" text-anchor="start" fill="#111" textLength="6.4" lengthAdjust="spacingAndGlyphs" stroke="#111" stroke-width="0.3">z</text>
<text x="93.4" y="39.0" font-size="14.2" text-anchor="start" fill="#111" textLength="8.6" lengthAdjust="spacingAndGlyphs" stroke="#111" stroke-width="0.4">=</text>
<text x="109.7" y="38.0" font-size="14.2" text-anchor="start" fill="#111" textLength="6.8" lengthAdjust="spacingAndGlyphs" stroke="#111" stroke-width="0.3">4</text>
<text x="79.2" y="80.2" font-size="13.6" text-anchor="start" fill="#111" textLength="6.4" lengthAdjust="spacingAndGlyphs" stroke="#111" stroke-width="0.3">z</text>
<text x="93.4" y="81.2" font-size="14.2" text-anchor="start" fill="#111" textLength="8.6" lengthAdjust="spacingAndGlyphs" stroke="#111" stroke-width="0.4">=</text>
<text x="109.7" y="80.2" font-size="14.2" text-anchor="start" fill="#111" textLength="27.2" lengthAdjust="spacingAndGlyphs" stroke="#111" stroke-width="0.3">2.33</text>
<text x="79.2" y="115.6" font-size="13.6" text-anchor="start" fill="#111" textLength="6.4" lengthAdjust="spacingAndGlyphs" stroke="#111" stroke-width="0.3">z</text>
<text x="93.4" y="116.6" font-size="14.2" text-anchor="start" fill="#111" textLength="8.6" lengthAdjust="spacingAndGlyphs" stroke="#111" stroke-width="0.4">=</text>
<text x="111.0" y="115.6" font-size="14.2" text-anchor="start" fill="#111" textLength="4.8" lengthAdjust="spacingAndGlyphs" stroke="#111" stroke-width="0.3">1</text>
<text x="79.2" y="181.8" font-size="13.6" text-anchor="start" fill="#111" textLength="6.4" lengthAdjust="spacingAndGlyphs" stroke="#111" stroke-width="0.3">z</text>
<text x="93.4" y="182.8" font-size="14.2" text-anchor="start" fill="#111" textLength="8.6" lengthAdjust="spacingAndGlyphs" stroke="#111" stroke-width="0.4">=</text>
<text x="109.7" y="181.8" font-size="14.2" text-anchor="start" fill="#111" textLength="7.0" lengthAdjust="spacingAndGlyphs" stroke="#111" stroke-width="0.3">0</text>
<text x="113.5" y="266.5" font-size="12.8" text-anchor="start" fill="#0000ff" textLength="24.6" lengthAdjust="spacingAndGlyphs" stroke="#0000ff" stroke-width="0.3">Full</text>
<text x="145.6" y="266.5" font-size="12.8" text-anchor="start" fill="#0000ff" textLength="25.6" lengthAdjust="spacingAndGlyphs" stroke="#0000ff" stroke-width="0.3">DGP</text>
<text x="113.3" y="287.0" font-size="12.8" text-anchor="start" fill="#ff0000" textLength="68.2" lengthAdjust="spacingAndGlyphs" stroke="#ff0000" stroke-width="0.3">Linearized</text>
<text x="190.2" y="287.0" font-size="12.8" text-anchor="start" fill="#ff0000" textLength="26.0" lengthAdjust="spacingAndGlyphs" stroke="#ff0000" stroke-width="0.3">DGP</text>
<g transform="translate(15.9,239.9) rotate(-90)" font-size="14.8" fill="#222">
<text x="0" y="0" textLength="15.3" lengthAdjust="spacingAndGlyphs">ΔP</text>
<text x="17.2" y="0" textLength="18.6" lengthAdjust="spacingAndGlyphs">(k)</text>
<text x="39.9" y="0" textLength="7.5" lengthAdjust="spacingAndGlyphs">/</text>
<text x="52.0" y="0" textLength="7.3" lengthAdjust="spacingAndGlyphs">P</text>
<text x="61.0" y="3.4" font-size="7" font-weight="bold" style="font-family:'Liberation Sans',sans-serif" textLength="20.6" lengthAdjust="spacingAndGlyphs">QCDM</text>
<text x="82.2" y="0" textLength="18.8" lengthAdjust="spacingAndGlyphs">(k)</text>
</g>
</g>
</svg>
</body></html>
